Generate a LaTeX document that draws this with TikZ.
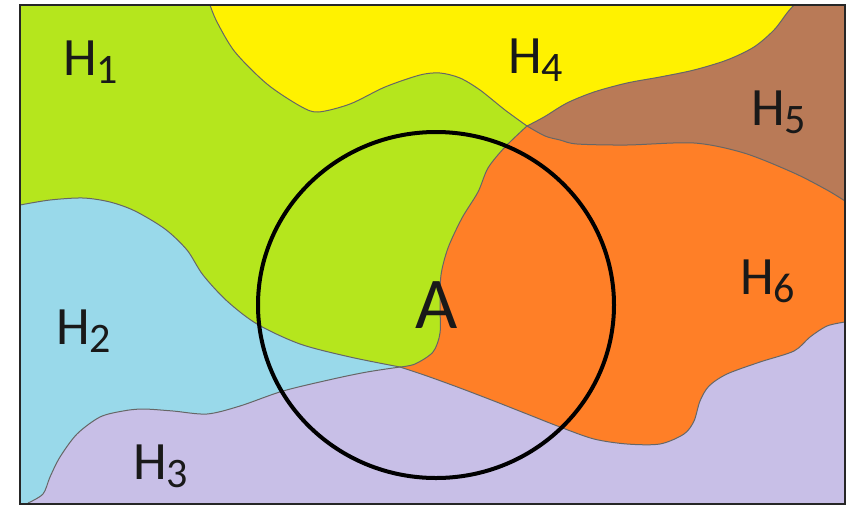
\documentclass[tikz,border=0pt]{standalone}
\usepackage{fontspec}
\setmainfont{Carlito}
\definecolor{cgreen}{RGB}{181,230,29}
\definecolor{cyellow}{RGB}{255,242,0}
\definecolor{cbrown}{RGB}{185,122,87}
\definecolor{corange}{RGB}{255,127,39}
\definecolor{cblue}{RGB}{153,217,234}
\definecolor{cpurple}{RGB}{200,191,231}
\tikzset{
  bound/.style={draw=gray!80!black, line width=1pt},
  hlabel/.style={anchor=base west, inner sep=0pt, font=\fontsize{54pt}{54pt}\selectfont, text=black!90},
}
\newcommand{\hsub}[1]{\raisebox{-8pt}{\fontsize{42pt}{42pt}\selectfont #1}}
\begin{document}
\begin{tikzpicture}[x=1pt,y=-1pt]
\fill[white] (0,0) rectangle (854,507);
\useasboundingbox (0,0) rectangle (854,507);
% green base
\fill[cgreen] (20,5) rectangle (845,504);
% blue
\fill[cblue] (20,205) -- plot[smooth] coordinates {(20,205) (50,200) (83,198) (110,202) (135,211) (165,229) (187,250) (203,275) (227,301) (257,324) (300,344) (350,357) (400,367)} -- (400,504) -- (20,504) -- cycle;
% yellow
\fill[cyellow] (210,5) -- (794,5) -- plot[smooth] coordinates {(794,5) (787,13) (774,30) (754,47) (727,60) (694,70) (660,77) (627,83) (594,92) (567,103) (544,117) (527,126)} -- plot[smooth] coordinates {(527,126) (505,110) (480,90) (460,78) (440,73) (420,75) (385,87) (350,104) (318,112) (300,106) (267,84) (235,52) (217,22) (210,5)} -- cycle;
% brown
\fill[cbrown] (794,5) -- (845,5) -- (845,201) -- plot[smooth] coordinates {(845,201) (827,190) (794,173) (744,153) (694,143) (627,145) (577,144) (560,140) (545,136) (527,126)} -- plot[smooth] coordinates {(527,126) (544,117) (567,103) (594,92) (627,83) (660,77) (694,70) (727,60) (754,47) (774,30) (787,13) (794,5)} -- cycle;
% orange
\fill[corange] (527,126) -- plot[smooth] coordinates {(527,126) (545,136) (560,140) (577,144) (627,145) (694,143) (744,153) (794,173) (827,190) (845,201)} -- (845,322) -- plot[smooth] coordinates {(845,322) (827,326) (810,337) (794,351) (760,362) (727,374) (709,386) (700,401) (694,421) (684,434) (660,444) (627,444) (594,439) (560,427) (527,414) (494,401) (460,388) (427,376) (400,367)} -- plot[smooth] coordinates {(400,367) (415,364) (433,352) (440,333) (440,305) (441,275) (448,248) (462,218) (478,192) (488,168) (505,147) (527,126)} -- cycle;
% purple
\fill[cpurple] (20,504) -- plot[smooth] coordinates {(28,503) (43,494) (50,477) (60,457) (77,434) (100,417) (123,411) (143,409) (173,411) (207,414) (240,406) (283,391) (333,379) (367,372) (400,367)} -- plot[smooth] coordinates {(400,367) (427,376) (460,388) (494,401) (527,414) (560,427) (594,439) (627,444) (660,444) (684,434) (694,421) (700,401) (709,386) (727,374) (760,362) (794,351) (810,337) (827,326) (845,322)} -- (845,504) -- cycle;
% boundaries
\draw[bound] plot[smooth] coordinates {(20,205) (50,200) (83,198) (110,202) (135,211) (165,229) (187,250) (203,275) (227,301) (257,324) (300,344) (350,357) (400,367)};
\draw[bound] plot[smooth] coordinates {(527,126) (505,110) (480,90) (460,78) (440,73) (420,75) (385,87) (350,104) (318,112) (300,106) (267,84) (235,52) (217,22) (210,5)};
\draw[bound] plot[smooth] coordinates {(527,126) (544,117) (567,103) (594,92) (627,83) (660,77) (694,70) (727,60) (754,47) (774,30) (787,13) (794,5)};
\draw[bound] plot[smooth] coordinates {(527,126) (545,136) (560,140) (577,144) (627,145) (694,143) (744,153) (794,173) (827,190) (845,201)};
\draw[bound] plot[smooth] coordinates {(400,367) (415,364) (433,352) (440,333) (440,305) (441,275) (448,248) (462,218) (478,192) (488,168) (505,147) (527,126)};
\draw[bound] plot[smooth] coordinates {(28,503) (43,494) (50,477) (60,457) (77,434) (100,417) (123,411) (143,409) (173,411) (207,414) (240,406) (283,391) (333,379) (367,372) (400,367)};
\draw[bound] plot[smooth] coordinates {(400,367) (427,376) (460,388) (494,401) (527,414) (560,427) (594,439) (627,444) (660,444) (684,434) (694,421) (700,401) (709,386) (727,374) (760,362) (794,351) (810,337) (827,326) (845,322)};
% frame
\draw[line width=2pt, black!85] (20,5) rectangle (845,504);
% circle
\draw[line width=4pt, black] (436,305) ellipse [x radius=178, y radius=173];
% labels
\node[hlabel] (h1) at (63,75) {H\hsub{1}};
\node[hlabel] (h4) at (508,73) {H\hsub{4}};
\node[hlabel] (h5) at (751,125) {H\hsub{5}};
\node[hlabel] (h2) at (56,344) {H\hsub{2}};
\node[hlabel] (h3) at (133,479) {H\hsub{3}};
\node[hlabel] (h6) at (740,294) {H\hsub{6}};
\node[anchor=base, inner sep=0pt, font=\fontsize{73pt}{73pt}\selectfont, text=black!90] (a) at (437,328) {A};
\end{tikzpicture}
\end{document}
